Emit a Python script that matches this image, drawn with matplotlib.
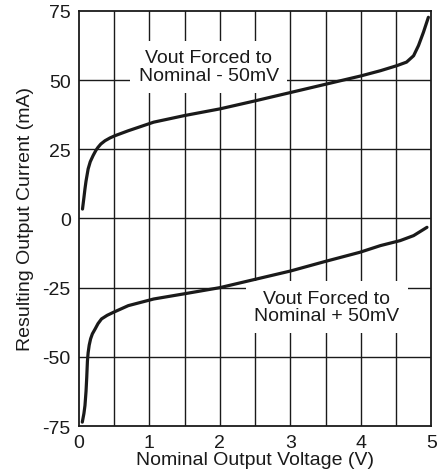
import matplotlib
matplotlib.use("Agg")
import matplotlib.pyplot as plt

plt.rcParams['font.family'] = ['Liberation Sans', 'DejaVu Sans']
plt.rcParams['axes.unicode_minus'] = False

# Nominal - 50mV curve
x_minus = [0.05, 0.07, 0.085, 0.1, 0.13, 0.16, 0.2, 0.24, 0.27, 0.31, 0.37, 0.44, 0.51, 0.7, 1.06, 1.5, 2.0, 2.5,
           3.0, 3.5, 4.0, 4.28, 4.51, 4.65, 4.75, 4.82, 4.89, 4.96]
y_minus = [3.4, 7.5, 10.7, 13.5, 17.9, 20.5, 22.7, 24.6, 25.7, 26.9, 28.1, 29.1, 29.9, 31.7, 34.8, 37.2, 39.6, 42.5,
           45.5, 48.5, 51.5, 53.4, 55.2, 56.5, 58.8, 62.5, 67.3, 72.7]

# Nominal + 50mV curve
x_plus = [0.047, 0.07, 0.085, 0.1, 0.11, 0.12, 0.13, 0.145, 0.165, 0.19, 0.23, 0.27, 0.32, 0.4, 0.49, 0.7, 1.06, 1.5,
          2.0, 2.5, 3.0, 3.5, 3.99, 4.28, 4.56, 4.75, 4.94]
y_plus = [-73.6, -70.5, -67.6, -62.5, -57.5, -51.5, -48.5, -45.8, -43.5, -41.7, -39.9, -38.0, -36.3, -35.0, -33.9, -31.5, -29.1, -27.2,
          -25, -22, -19, -15.5, -12.2, -9.8, -8.0, -6.2, -3.2]

x_ticks = [0, 1, 2, 3, 4, 5]
y_ticks = [-75, -50, -25, 0, 25, 50, 75]
x_grid = [0.5, 1, 1.5, 2, 2.5, 3, 3.5, 4, 4.5]
y_grid = [-50, -25, 0, 25, 50]

fig = plt.figure(figsize=(4.4, 4.77), dpi=100)
ax = fig.add_axes([0.1795, 0.1048, 0.8005, 0.8702])
ax.set_xlim(0, 5)
ax.set_ylim(-75, 75)

for gx in x_grid:
    ax.axvline(gx, color='#1a1a1a', lw=1.0, zorder=1)
for gy in y_grid:
    ax.axhline(gy, color='#1a1a1a', lw=1.0, zorder=1)

ax.plot(x_minus, y_minus, color='#1a1a1a', lw=2.3, solid_capstyle='round', solid_joinstyle='round', zorder=3)
ax.plot(x_plus, y_plus, color='#1a1a1a', lw=2.3, solid_capstyle='round', solid_joinstyle='round', zorder=3)

ax.text(1.84, 54.8, "Vout Forced to\nNominal - 50mV", ha='center', va='center',
        fontsize=14, color='#1a1a1a', linespacing=1.05, zorder=2,
        bbox=dict(facecolor='white', edgecolor='none', pad=6))
ax.text(3.52, -32.0, "Vout Forced to\nNominal + 50mV", ha='center', va='center',
        fontsize=14, color='#1a1a1a', linespacing=1.05, zorder=2,
        bbox=dict(facecolor='white', edgecolor='none', pad=6))

ax.set_xticks(x_ticks)
ax.set_yticks(y_ticks)
ax.tick_params(length=0, labelsize=14, colors='#1a1a1a', pad=6)
for s in ax.spines.values():
    s.set_linewidth(1.3)
    s.set_color('#1a1a1a')

ax.set_xlabel("Nominal Output Voltage (V)", fontsize=14, color='#1a1a1a', labelpad=0)
ax.set_ylabel("Resulting Output Current (mA)", fontsize=14, color='#1a1a1a', labelpad=6)

fig.savefig("out.png", dpi=100)
